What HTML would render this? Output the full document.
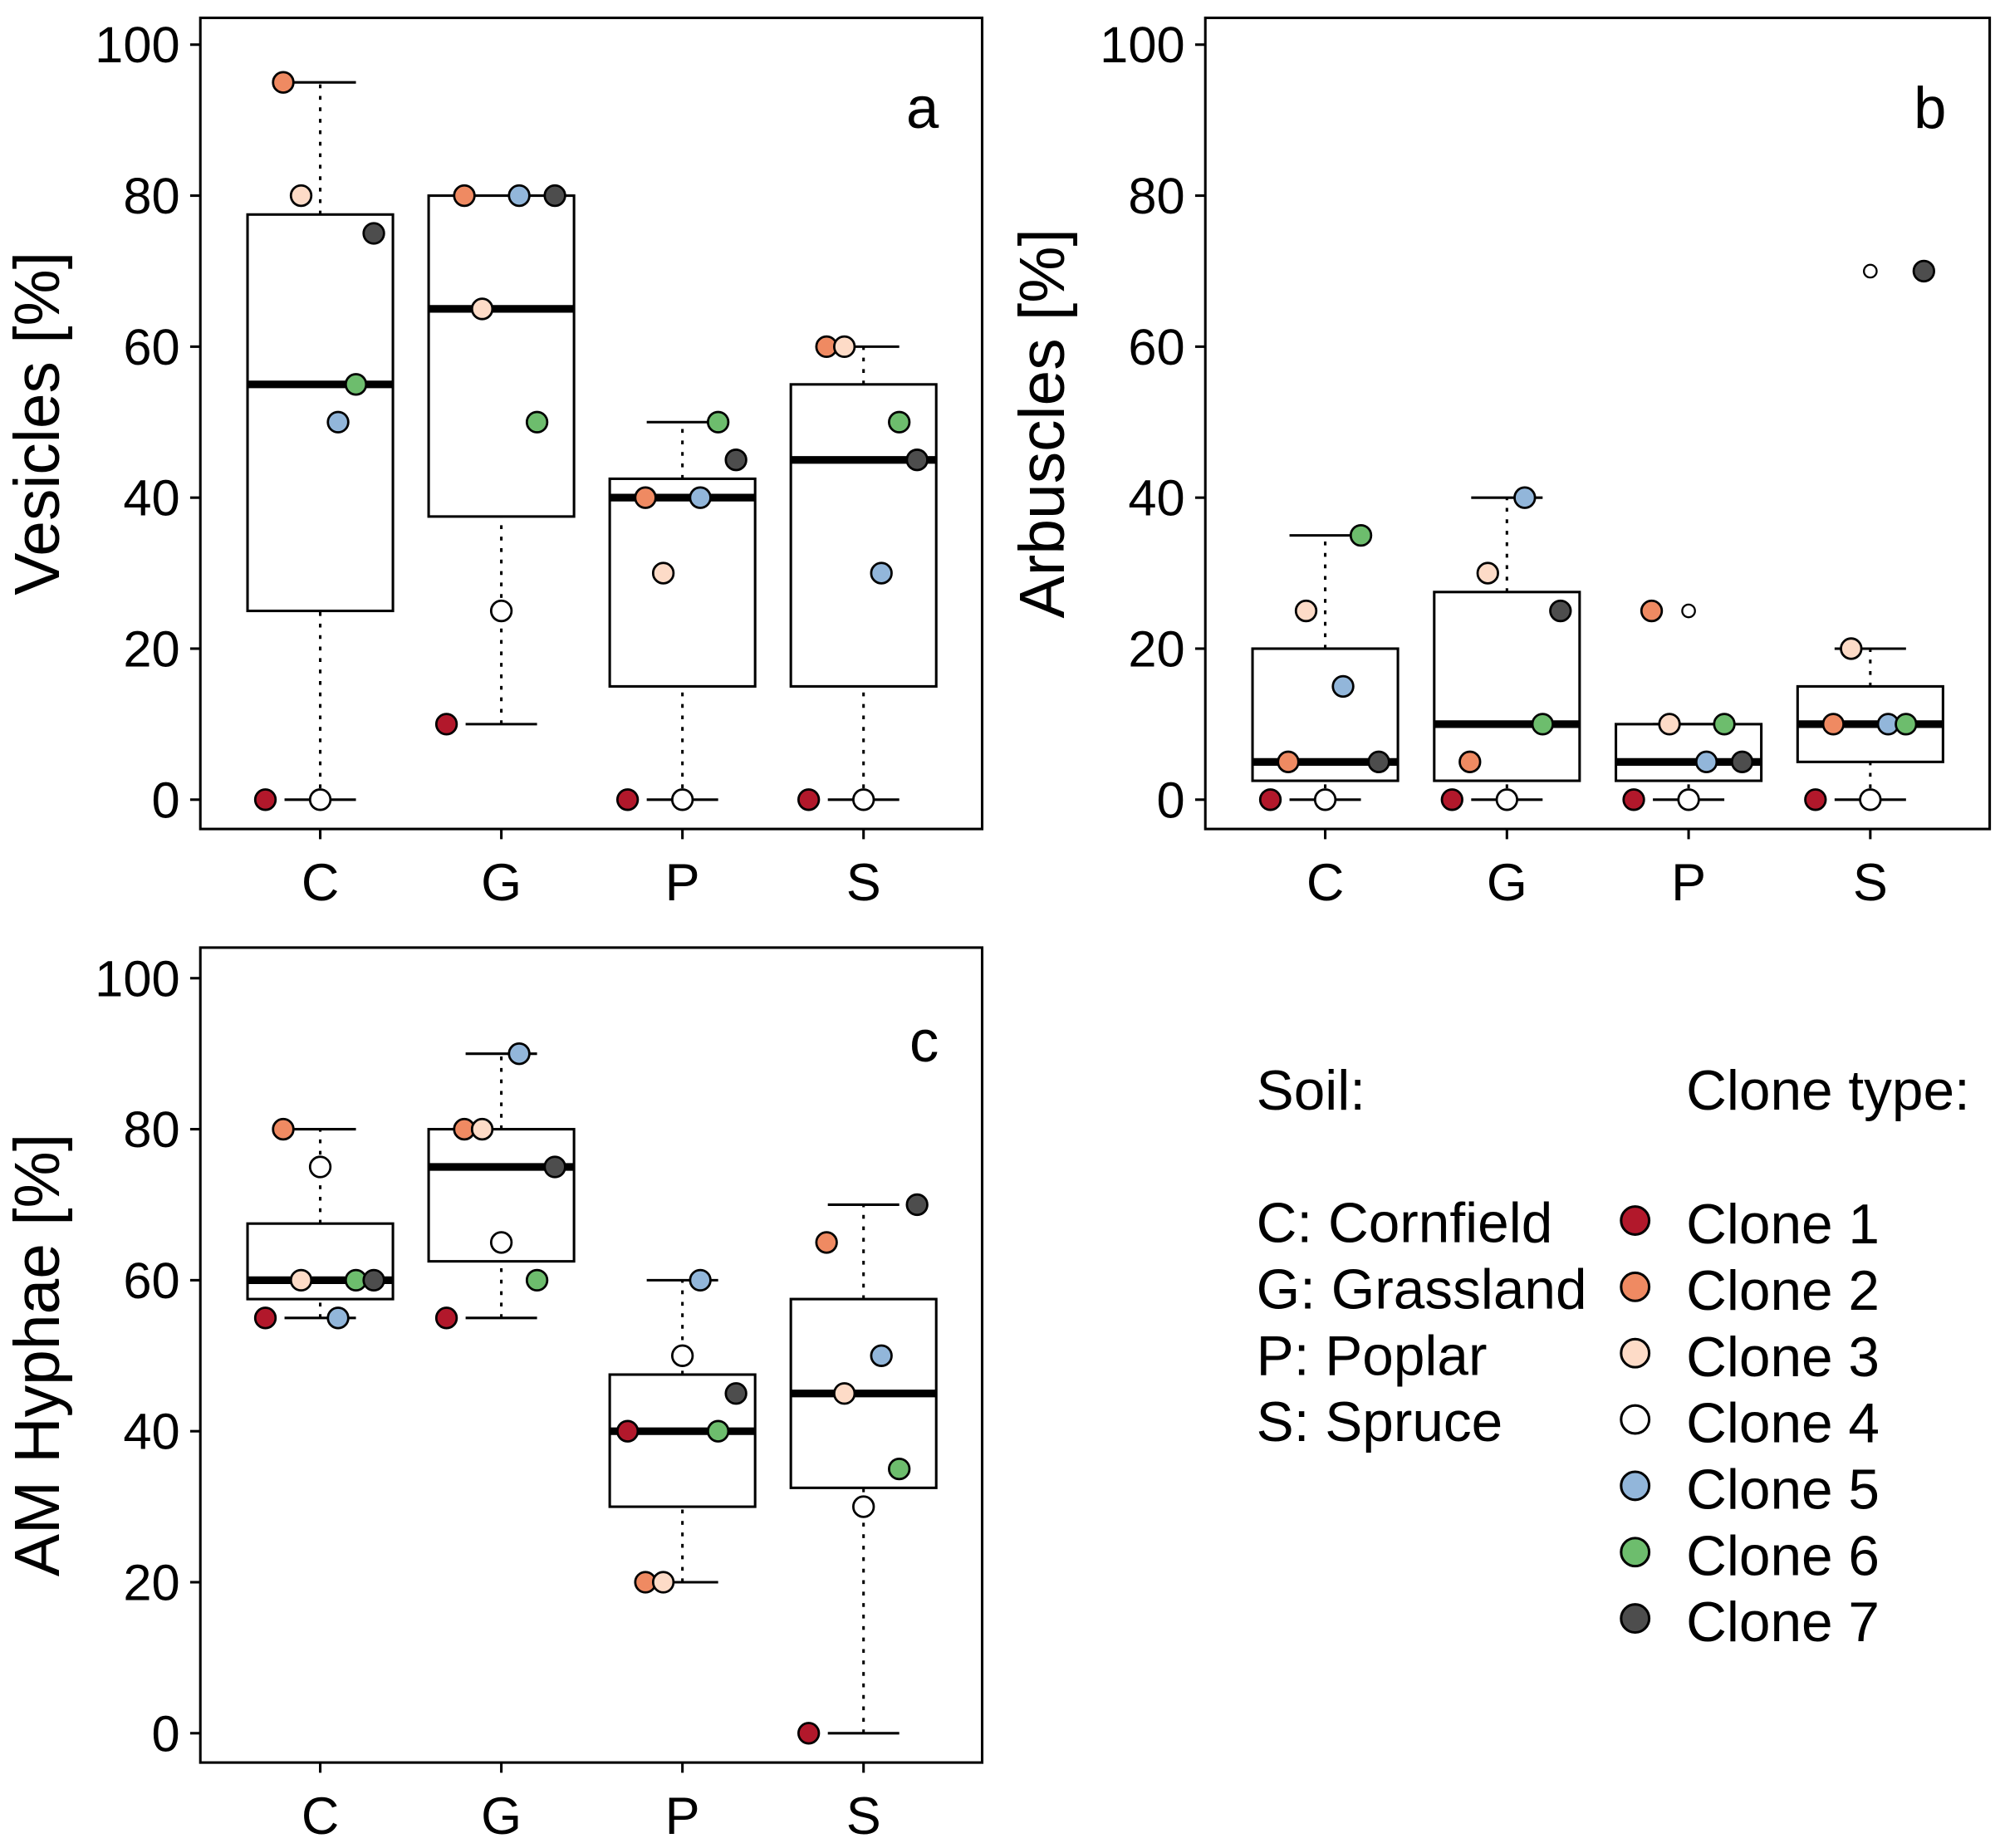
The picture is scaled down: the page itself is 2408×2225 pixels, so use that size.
<!DOCTYPE html>
<html><head><meta charset="utf-8"><style>
html,body{margin:0;padding:0;background:#fff;}
svg{display:block;font-family:"Liberation Sans",Arial,sans-serif;}
</style></head><body>
<svg id="chart" width="2408" height="2225" viewBox="0 0 1568 1449" xmlns="http://www.w3.org/2000/svg">
<g id="legend" font-size="44" fill="#000">
<text x="985" y="870">Soil:</text>
<text x="1322" y="870">Clone type:</text>
<text x="985" y="974">C: Cornfield</text>
<text x="985" y="1026">G: Grassland</text>
<text x="985" y="1078">P: Poplar</text>
<text x="985" y="1130">S: Spruce</text>
</g>
</svg>
<script>
const categories = ["C","G","P","S"];
const cloneNames = ["Clone 1","Clone 2","Clone 3","Clone 4","Clone 5","Clone 6","Clone 7"];
const cloneColors = ["#b2182b","#ef8a62","#fddbc7","#ffffff","#92b6da","#6dbd6d","#4d4d4d"];
const yTicks = [0,20,40,60,80,100];
// box stats per category: [whiskerLow, q1, median, q3, whiskerHigh]
const vesStats = [[0,25,55,77.5,95],[10,37.5,65,80,80],[0,15,40,42.5,50],[0,15,45,55,60]];
const vesPoints = [[0,95,80,0,50,55,75],[10,80,65,25,80,50,80],[0,40,30,0,40,50,45],[0,60,60,0,30,50,45]];
const vesOutliers = [[],[],[],[]];
const arbStats = [[0,2.5,5,20,35],[0,2.5,10,27.5,40],[0,2.5,5,10,10],[0,5,10,15,20]];
const arbPoints = [[0,5,25,0,15,35,5],[0,5,30,0,40,10,25],[0,25,10,0,5,10,5],[0,10,20,0,10,10,70]];
const arbOutliers = [[],[],[25],[70]];
const hypStats = [[55,57.5,60,67.5,80],[55,62.5,75,80,90],[20,30,40,47.5,60],[0,32.5,45,57.5,70]];
const hypPoints = [[55,80,60,75,55,60,60],[55,80,80,65,90,60,75],[40,20,20,50,60,40,45],[0,65,45,30,50,35,70]];
const hypOutliers = [[],[],[],[]];

const NS="http://www.w3.org/2000/svg";
const svg=document.getElementById('chart');
function mk(tag,attrs,parent){const e=document.createElementNS(NS,tag);for(const k in attrs)e.setAttribute(k,attrs[k]);(parent||svg).appendChild(e);return e;}
const offsets=[-43,-29,-15,0,14,28,42];

function panel(name,left,right,top,bottom,y0,y100,stats,points,outliers,title,letter){
  const g=mk('g',{});
  
  
  const yS=v=>y0+(y100-y0)*v/100;
  const xS=i=>left+94+i*142*(right-left)/613;
  const fr=mk('rect',{x:left,y:top,width:right-left,height:bottom-top,fill:'none',stroke:'#000','stroke-width':2},g);
  
  
  yTicks.forEach(t=>{
    mk('line',{x1:left-8,x2:left,y1:yS(t),y2:yS(t),stroke:'#000','stroke-width':2},g);
    const tx=mk('text',{x:left-16,y:yS(t)+14,'text-anchor':'end','font-size':40},g);tx.textContent=t;
    
    
  });
  categories.forEach((c,i)=>{
    const x=xS(i);
    mk('line',{x1:x,x2:x,y1:bottom,y2:bottom+8,stroke:'#000','stroke-width':2},g);
    const tx=mk('text',{x:x,y:bottom+56,'text-anchor':'middle','font-size':41},g);tx.textContent=c;
    
    
    const s=stats[i];
    mk('line',{x1:x,x2:x,y1:yS(s[0]),y2:yS(s[1]),stroke:'#000','stroke-width':2,'stroke-dasharray':'3,6'},g);
    mk('line',{x1:x,x2:x,y1:yS(s[3]),y2:yS(s[4]),stroke:'#000','stroke-width':2,'stroke-dasharray':'3,6'},g);
    mk('line',{x1:x-28,x2:x+28,y1:yS(s[0]),y2:yS(s[0]),stroke:'#000','stroke-width':2},g);
    mk('line',{x1:x-28,x2:x+28,y1:yS(s[4]),y2:yS(s[4]),stroke:'#000','stroke-width':2},g);
    const bx=mk('rect',{x:x-57,y:yS(s[3]),width:114,height:yS(s[1])-yS(s[3]),fill:'#fff',stroke:'#000','stroke-width':2},g);
    
    
    mk('line',{x1:x-57,x2:x+57,y1:yS(s[2]),y2:yS(s[2]),stroke:'#000','stroke-width':6},g);
    outliers[i].forEach(o=>{
      const oc=mk('circle',{cx:x,cy:yS(o),r:5,fill:'#fff',stroke:'#000','stroke-width':1.5},g);
      
      
    });
    points[i].forEach((v,k)=>{
      const p=mk('circle',{cx:x+offsets[k],cy:yS(v),r:8,fill:cloneColors[k],stroke:'#000','stroke-width':1.8},g);
      
      
    });
  });
  const cy=(top+bottom)/2;
  const t=mk('text',{x:0,y:0,'text-anchor':'middle','font-size':50,transform:`translate(${left-111},${cy}) rotate(-90)`},g);
  t.textContent=title;
  
  
  const l=mk('text',{x:right-34,y:yS(91)+12,'text-anchor':'end','font-size':46},g);
  l.textContent=letter;
  
  
}
panel('vesicles',157,770,14,650,627,35,vesStats,vesPoints,vesOutliers,'Vesicles [%]','a');
panel('arbuscles',945,1560,14,650,627,35,arbStats,arbPoints,arbOutliers,'Arbuscles [%]','b');
panel('hyphae',157,770,743,1382,1359,767,hypStats,hypPoints,hypOutliers,'AM Hyphae [%]','c');

const lg=document.getElementById('legend');
cloneNames.forEach((n,k)=>{
  const y=960+k*52;
  const c=mk('circle',{cx:1282,cy:y-3,r:11,fill:cloneColors[k],stroke:'#000','stroke-width':2},lg);
  
  
  const t=mk('text',{x:1322,y:y+15},lg);t.textContent=n;
  
  
});
</script>
</body></html>
